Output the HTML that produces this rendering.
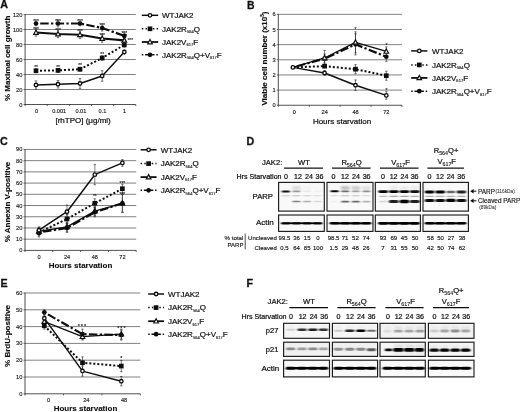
<!DOCTYPE html>
<html><head><meta charset="utf-8"><title>Figure</title>
<style>html,body{margin:0;padding:0;background:#fff;}svg{display:block;}svg text{font-family:"Liberation Sans",sans-serif;}</style></head><body>
<svg width="520" height="412" viewBox="0 0 520 412" font-family="Liberation Sans, sans-serif">
<defs>
<filter id="b1" x="-20%" y="-200%" width="140%" height="500%"><feGaussianBlur stdDeviation="0.9 0.55"/></filter>
<filter id="b2" x="-20%" y="-200%" width="140%" height="500%"><feGaussianBlur stdDeviation="1.1 0.8"/></filter>
<filter id="soft"><feGaussianBlur stdDeviation="0.42"/></filter>
</defs>
<rect width="520" height="412" fill="#fff"/>
<g filter="url(#soft)">
<text x="0.2" y="8.1" font-size="10.7" font-weight="bold" text-anchor="start" fill="#111" stroke="#111" stroke-width="0.28" >A</text>
<text x="246.9" y="8.5" font-size="10.4" font-weight="bold" text-anchor="start" fill="#111" stroke="#111" stroke-width="0.28" >B</text>
<text x="0.1" y="145.4" font-size="10.7" font-weight="bold" text-anchor="start" fill="#111" stroke="#111" stroke-width="0.28" >C</text>
<text x="246.5" y="145.3" font-size="10.7" font-weight="bold" text-anchor="start" fill="#111" stroke="#111" stroke-width="0.28" >D</text>
<text x="0.4" y="286.8" font-size="10.7" font-weight="bold" text-anchor="start" fill="#111" stroke="#111" stroke-width="0.28" >E</text>
<text x="246.5" y="286.9" font-size="10.7" font-weight="bold" text-anchor="start" fill="#111" stroke="#111" stroke-width="0.28" >F</text>
<line x1="25.1" y1="14.50" x2="135.8" y2="14.50" stroke="#6a6a6a" stroke-width="0.85"/>
<line x1="23.6" y1="14.50" x2="25.1" y2="14.50" stroke="#222" stroke-width="0.7"/>
<text x="22.400000000000002" y="16.5" font-size="5.7" text-anchor="end" fill="#1a1a1a" stroke="#1a1a1a" stroke-width="0.14" >120</text>
<line x1="25.1" y1="29.50" x2="135.8" y2="29.50" stroke="#6a6a6a" stroke-width="0.85"/>
<line x1="23.6" y1="29.50" x2="25.1" y2="29.50" stroke="#222" stroke-width="0.7"/>
<text x="22.400000000000002" y="31.5" font-size="5.7" text-anchor="end" fill="#1a1a1a" stroke="#1a1a1a" stroke-width="0.14" >100</text>
<line x1="25.1" y1="44.50" x2="135.8" y2="44.50" stroke="#6a6a6a" stroke-width="0.85"/>
<line x1="23.6" y1="44.50" x2="25.1" y2="44.50" stroke="#222" stroke-width="0.7"/>
<text x="22.400000000000002" y="46.5" font-size="5.7" text-anchor="end" fill="#1a1a1a" stroke="#1a1a1a" stroke-width="0.14" >80</text>
<line x1="25.1" y1="59.50" x2="135.8" y2="59.50" stroke="#6a6a6a" stroke-width="0.85"/>
<line x1="23.6" y1="59.50" x2="25.1" y2="59.50" stroke="#222" stroke-width="0.7"/>
<text x="22.400000000000002" y="61.5" font-size="5.7" text-anchor="end" fill="#1a1a1a" stroke="#1a1a1a" stroke-width="0.14" >60</text>
<line x1="25.1" y1="74.50" x2="135.8" y2="74.50" stroke="#6a6a6a" stroke-width="0.85"/>
<line x1="23.6" y1="74.50" x2="25.1" y2="74.50" stroke="#222" stroke-width="0.7"/>
<text x="22.400000000000002" y="76.5" font-size="5.7" text-anchor="end" fill="#1a1a1a" stroke="#1a1a1a" stroke-width="0.14" >40</text>
<line x1="25.1" y1="89.50" x2="135.8" y2="89.50" stroke="#6a6a6a" stroke-width="0.85"/>
<line x1="23.6" y1="89.50" x2="25.1" y2="89.50" stroke="#222" stroke-width="0.7"/>
<text x="22.400000000000002" y="91.5" font-size="5.7" text-anchor="end" fill="#1a1a1a" stroke="#1a1a1a" stroke-width="0.14" >20</text>
<line x1="25.1" y1="104.50" x2="135.8" y2="104.50" stroke="#333" stroke-width="0.85"/>
<line x1="23.6" y1="104.50" x2="25.1" y2="104.50" stroke="#222" stroke-width="0.7"/>
<text x="22.400000000000002" y="106.5" font-size="5.7" text-anchor="end" fill="#1a1a1a" stroke="#1a1a1a" stroke-width="0.14" >0</text>
<line x1="25.1" y1="14.10" x2="25.1" y2="104.90" stroke="#444" stroke-width="0.95"/>
<line x1="25.10" y1="104.50" x2="25.10" y2="106.10" stroke="#222" stroke-width="0.7"/>
<line x1="47.24" y1="104.50" x2="47.24" y2="106.10" stroke="#222" stroke-width="0.7"/>
<line x1="69.38" y1="104.50" x2="69.38" y2="106.10" stroke="#222" stroke-width="0.7"/>
<line x1="91.52" y1="104.50" x2="91.52" y2="106.10" stroke="#222" stroke-width="0.7"/>
<line x1="113.66" y1="104.50" x2="113.66" y2="106.10" stroke="#222" stroke-width="0.7"/>
<line x1="135.80" y1="104.50" x2="135.80" y2="106.10" stroke="#222" stroke-width="0.7"/>
<text x="36.6" y="112.6" font-size="5.6" text-anchor="middle" fill="#1a1a1a" stroke="#1a1a1a" stroke-width="0.14" >0</text>
<text x="59.2" y="112.6" font-size="5.6" text-anchor="middle" fill="#1a1a1a" stroke="#1a1a1a" stroke-width="0.14" >0.001</text>
<text x="80.9" y="112.6" font-size="5.6" text-anchor="middle" fill="#1a1a1a" stroke="#1a1a1a" stroke-width="0.14" >0.01</text>
<text x="102.5" y="112.6" font-size="5.6" text-anchor="middle" fill="#1a1a1a" stroke="#1a1a1a" stroke-width="0.14" >0.1</text>
<text x="124.6" y="112.6" font-size="5.6" text-anchor="middle" fill="#1a1a1a" stroke="#1a1a1a" stroke-width="0.14" >1</text>
<text transform="translate(9.5,58.3) rotate(-90)" font-size="8" font-weight="bold" text-anchor="middle" fill="#111" stroke="#111" stroke-width="0.15">% Maximal cell growth</text>
<text x="83.1" y="123.4" font-size="8" text-anchor="middle" fill="#111" stroke="#111" stroke-width="0.22" >[rhTPO] (μg/ml)</text>
<path d="M36.00,80.88 V89.12 M34.80,80.88 h2.4 M34.80,89.12 h2.4" stroke="#222" stroke-width="0.6" fill="none"/>
<path d="M58.00,80.50 V88.00 M56.80,80.50 h2.4 M56.80,88.00 h2.4" stroke="#222" stroke-width="0.6" fill="none"/>
<path d="M80.00,78.62 V88.38 M78.80,78.62 h2.4 M78.80,88.38 h2.4" stroke="#222" stroke-width="0.6" fill="none"/>
<path d="M102.20,70.75 V81.25 M101.00,70.75 h2.4 M101.00,81.25 h2.4" stroke="#222" stroke-width="0.6" fill="none"/>
<path d="M124.30,50.12 V53.88 M123.10,50.12 h2.4 M123.10,53.88 h2.4" stroke="#222" stroke-width="0.6" fill="none"/>
<path d="M36.00,68.88 V72.62 M34.80,68.88 h2.4 M34.80,72.62 h2.4" stroke="#222" stroke-width="0.6" fill="none"/>
<path d="M58.00,68.50 V72.25 M56.80,68.50 h2.4 M56.80,72.25 h2.4" stroke="#222" stroke-width="0.6" fill="none"/>
<path d="M80.00,67.38 V71.12 M78.80,67.38 h2.4 M78.80,71.12 h2.4" stroke="#222" stroke-width="0.6" fill="none"/>
<path d="M102.20,55.75 V60.25 M101.00,55.75 h2.4 M101.00,60.25 h2.4" stroke="#222" stroke-width="0.6" fill="none"/>
<path d="M124.30,42.62 V47.12 M123.10,42.62 h2.4 M123.10,47.12 h2.4" stroke="#222" stroke-width="0.6" fill="none"/>
<path d="M36.00,28.75 V36.25 M34.80,28.75 h2.4 M34.80,36.25 h2.4" stroke="#222" stroke-width="0.6" fill="none"/>
<path d="M58.00,30.25 V37.75 M56.80,30.25 h2.4 M56.80,37.75 h2.4" stroke="#222" stroke-width="0.6" fill="none"/>
<path d="M80.00,31.00 V38.50 M78.80,31.00 h2.4 M78.80,38.50 h2.4" stroke="#222" stroke-width="0.6" fill="none"/>
<path d="M102.20,34.75 V42.25 M101.00,34.75 h2.4 M101.00,42.25 h2.4" stroke="#222" stroke-width="0.6" fill="none"/>
<path d="M124.30,37.38 V43.38 M123.10,37.38 h2.4 M123.10,43.38 h2.4" stroke="#222" stroke-width="0.6" fill="none"/>
<path d="M36.00,21.25 V25.75 M34.80,21.25 h2.4 M34.80,25.75 h2.4" stroke="#222" stroke-width="0.6" fill="none"/>
<path d="M58.00,20.12 V26.88 M56.80,20.12 h2.4 M56.80,26.88 h2.4" stroke="#222" stroke-width="0.6" fill="none"/>
<path d="M80.00,21.25 V25.75 M78.80,21.25 h2.4 M78.80,25.75 h2.4" stroke="#222" stroke-width="0.6" fill="none"/>
<path d="M102.20,25.00 V31.00 M101.00,25.00 h2.4 M101.00,31.00 h2.4" stroke="#222" stroke-width="0.6" fill="none"/>
<path d="M124.30,32.88 V38.88 M123.10,32.88 h2.4 M123.10,38.88 h2.4" stroke="#222" stroke-width="0.6" fill="none"/>
<polyline points="36.00,85.00 58.00,84.25 80.00,83.50 102.20,76.00 124.30,52.00" fill="none" stroke="#111" stroke-linejoin="round" stroke-width="1.45"/>
<circle cx="36.00" cy="85.00" r="1.75" fill="#fff" stroke="#111" stroke-width="1.35"/>
<circle cx="58.00" cy="84.25" r="1.75" fill="#fff" stroke="#111" stroke-width="1.35"/>
<circle cx="80.00" cy="83.50" r="1.75" fill="#fff" stroke="#111" stroke-width="1.35"/>
<circle cx="102.20" cy="76.00" r="1.75" fill="#fff" stroke="#111" stroke-width="1.35"/>
<circle cx="124.30" cy="52.00" r="1.75" fill="#fff" stroke="#111" stroke-width="1.35"/>
<polyline points="36.00,70.75 58.00,70.38 80.00,69.25 102.20,58.00 124.30,44.88" fill="none" stroke="#111" stroke-linejoin="round" stroke-width="2" stroke-dasharray="2 2"/>
<rect x="33.65" y="68.40" width="4.7" height="4.7" fill="#111"/>
<rect x="55.65" y="68.03" width="4.7" height="4.7" fill="#111"/>
<rect x="77.65" y="66.90" width="4.7" height="4.7" fill="#111"/>
<rect x="99.85" y="55.65" width="4.7" height="4.7" fill="#111"/>
<rect x="121.95" y="42.52" width="4.7" height="4.7" fill="#111"/>
<polyline points="36.00,32.50 58.00,34.00 80.00,34.75 102.20,38.50 124.30,40.38" fill="none" stroke="#111" stroke-linejoin="round" stroke-width="2.15"/>
<path d="M36.00,30.00 L38.30,34.30 L33.70,34.30 Z" fill="#fff" stroke="#111" stroke-width="1.2"/>
<path d="M58.00,31.50 L60.30,35.80 L55.70,35.80 Z" fill="#fff" stroke="#111" stroke-width="1.2"/>
<path d="M80.00,32.25 L82.30,36.55 L77.70,36.55 Z" fill="#fff" stroke="#111" stroke-width="1.2"/>
<path d="M102.20,36.00 L104.50,40.30 L99.90,40.30 Z" fill="#fff" stroke="#111" stroke-width="1.2"/>
<path d="M124.30,37.88 L126.60,42.17 L122.00,42.17 Z" fill="#fff" stroke="#111" stroke-width="1.2"/>
<polyline points="36.00,23.50 58.00,23.50 80.00,23.50 102.20,28.00 124.30,35.88" fill="none" stroke="#111" stroke-linejoin="round" stroke-width="2.2" stroke-dasharray="8.5 2.3 2.3 2.3" stroke-dashoffset="11.2"/>
<circle cx="36.00" cy="23.50" r="2.35" fill="#111"/>
<circle cx="58.00" cy="23.50" r="2.35" fill="#111"/>
<circle cx="80.00" cy="23.50" r="2.35" fill="#111"/>
<circle cx="102.20" cy="28.00" r="2.35" fill="#111"/>
<circle cx="124.30" cy="35.88" r="2.35" fill="#111"/>
<text x="36" y="22.5" font-size="4.8" text-anchor="middle" fill="#111" stroke="#111" stroke-width="0.1" letter-spacing="0">***</text>
<text x="36" y="30.6" font-size="4.8" text-anchor="middle" fill="#111" stroke="#111" stroke-width="0.1" letter-spacing="0">***</text>
<text x="58" y="22.5" font-size="4.8" text-anchor="middle" fill="#111" stroke="#111" stroke-width="0.1" letter-spacing="0">***</text>
<text x="58" y="32.1" font-size="4.8" text-anchor="middle" fill="#111" stroke="#111" stroke-width="0.1" letter-spacing="0">***</text>
<text x="80" y="22.5" font-size="4.8" text-anchor="middle" fill="#111" stroke="#111" stroke-width="0.1" letter-spacing="0">***</text>
<text x="80" y="32.85" font-size="4.8" text-anchor="middle" fill="#111" stroke="#111" stroke-width="0.1" letter-spacing="0">***</text>
<text x="102.2" y="27.0" font-size="4.8" text-anchor="middle" fill="#111" stroke="#111" stroke-width="0.1" letter-spacing="0">***</text>
<text x="102.2" y="36.6" font-size="4.8" text-anchor="middle" fill="#111" stroke="#111" stroke-width="0.1" letter-spacing="0">***</text>
<text x="124.3" y="34.875" font-size="4.8" text-anchor="middle" fill="#111" stroke="#111" stroke-width="0.1" letter-spacing="0">***</text>
<text x="124.3" y="38.475" font-size="4.8" text-anchor="middle" fill="#111" stroke="#111" stroke-width="0.1" letter-spacing="0">***</text>
<text x="36" y="68.95" font-size="4.8" text-anchor="middle" fill="#111" stroke="#111" stroke-width="0.1" letter-spacing="0">**</text>
<text x="58" y="68.575" font-size="4.8" text-anchor="middle" fill="#111" stroke="#111" stroke-width="0.1" letter-spacing="0">**</text>
<text x="80" y="67.45" font-size="4.8" text-anchor="middle" fill="#111" stroke="#111" stroke-width="0.1" letter-spacing="0">**</text>
<text x="102.2" y="56.2" font-size="4.8" text-anchor="middle" fill="#111" stroke="#111" stroke-width="0.1" letter-spacing="0">**</text>
<text x="130.3" y="41.8" font-size="4.8" text-anchor="middle" fill="#111" stroke="#111" stroke-width="0.1" letter-spacing="0">***</text>
<line x1="141.8" y1="15.3" x2="158.2" y2="15.3" stroke="#111" stroke-width="1.5"/>
<circle cx="150.00" cy="15.30" r="1.75" fill="#fff" stroke="#111" stroke-width="1.35"/>
<text x="162" y="18.1" font-size="8" text-anchor="start" fill="#111" stroke="#111" stroke-width="0.22" >WTJAK2</text>
<line x1="141.8" y1="28.8" x2="158.2" y2="28.8" stroke="#111" stroke-width="1.5" stroke-dasharray="1.5 2.2"/>
<rect x="147.65" y="26.45" width="4.7" height="4.7" fill="#111"/>
<text x="162" y="31.6" font-size="8" text-anchor="start" fill="#111" stroke="#111" stroke-width="0.22" >JAK2R<tspan font-size="4.1" dy="1.5" stroke-width="0.12">564</tspan><tspan dy="-1.5">Q</tspan></text>
<line x1="141.8" y1="42.0" x2="158.2" y2="42.0" stroke="#111" stroke-width="1.8"/>
<path d="M150.00,39.50 L152.30,43.80 L147.70,43.80 Z" fill="#fff" stroke="#111" stroke-width="1.2"/>
<text x="162" y="44.8" font-size="8" text-anchor="start" fill="#111" stroke="#111" stroke-width="0.22" >JAK2V<tspan font-size="4.1" dy="1.5" stroke-width="0.12">617</tspan><tspan dy="-1.5">F</tspan></text>
<line x1="141.8" y1="54.8" x2="158.2" y2="54.8" stroke="#111" stroke-width="1.4" stroke-dasharray="1.5 1.8 9.4 1.8 1.5"/>
<circle cx="150.00" cy="54.80" r="2.35" fill="#111"/>
<text x="162" y="57.599999999999994" font-size="8" text-anchor="start" fill="#111" stroke="#111" stroke-width="0.22" >JAK2R<tspan font-size="4.1" dy="1.5" stroke-width="0.12">564</tspan><tspan dy="-1.5">Q+V</tspan><tspan font-size="4.1" dy="1.5" stroke-width="0.12">617</tspan><tspan dy="-1.5">F</tspan></text>
<line x1="278.3" y1="14.35" x2="402" y2="14.35" stroke="#6a6a6a" stroke-width="0.85"/>
<line x1="276.8" y1="14.35" x2="278.3" y2="14.35" stroke="#222" stroke-width="0.7"/>
<text x="275.6" y="16.35" font-size="5.7" text-anchor="end" fill="#1a1a1a" stroke="#1a1a1a" stroke-width="0.14" >6</text>
<line x1="278.3" y1="29.50" x2="402" y2="29.50" stroke="#6a6a6a" stroke-width="0.85"/>
<line x1="276.8" y1="29.50" x2="278.3" y2="29.50" stroke="#222" stroke-width="0.7"/>
<text x="275.6" y="31.5" font-size="5.7" text-anchor="end" fill="#1a1a1a" stroke="#1a1a1a" stroke-width="0.14" >5</text>
<line x1="278.3" y1="44.65" x2="402" y2="44.65" stroke="#6a6a6a" stroke-width="0.85"/>
<line x1="276.8" y1="44.65" x2="278.3" y2="44.65" stroke="#222" stroke-width="0.7"/>
<text x="275.6" y="46.65" font-size="5.7" text-anchor="end" fill="#1a1a1a" stroke="#1a1a1a" stroke-width="0.14" >4</text>
<line x1="278.3" y1="59.80" x2="402" y2="59.80" stroke="#6a6a6a" stroke-width="0.85"/>
<line x1="276.8" y1="59.80" x2="278.3" y2="59.80" stroke="#222" stroke-width="0.7"/>
<text x="275.6" y="61.800000000000004" font-size="5.7" text-anchor="end" fill="#1a1a1a" stroke="#1a1a1a" stroke-width="0.14" >3</text>
<line x1="278.3" y1="74.95" x2="402" y2="74.95" stroke="#6a6a6a" stroke-width="0.85"/>
<line x1="276.8" y1="74.95" x2="278.3" y2="74.95" stroke="#222" stroke-width="0.7"/>
<text x="275.6" y="76.95" font-size="5.7" text-anchor="end" fill="#1a1a1a" stroke="#1a1a1a" stroke-width="0.14" >2</text>
<line x1="278.3" y1="90.10" x2="402" y2="90.10" stroke="#6a6a6a" stroke-width="0.85"/>
<line x1="276.8" y1="90.10" x2="278.3" y2="90.10" stroke="#222" stroke-width="0.7"/>
<text x="275.6" y="92.1" font-size="5.7" text-anchor="end" fill="#1a1a1a" stroke="#1a1a1a" stroke-width="0.14" >1</text>
<line x1="278.3" y1="105.25" x2="402" y2="105.25" stroke="#333" stroke-width="0.85"/>
<line x1="276.8" y1="105.25" x2="278.3" y2="105.25" stroke="#222" stroke-width="0.7"/>
<text x="275.6" y="107.25" font-size="5.7" text-anchor="end" fill="#1a1a1a" stroke="#1a1a1a" stroke-width="0.14" >0</text>
<line x1="278.3" y1="13.95" x2="278.3" y2="105.65" stroke="#444" stroke-width="0.95"/>
<line x1="278.30" y1="105.25" x2="278.30" y2="106.85" stroke="#222" stroke-width="0.7"/>
<line x1="309.23" y1="105.25" x2="309.23" y2="106.85" stroke="#222" stroke-width="0.7"/>
<line x1="340.15" y1="105.25" x2="340.15" y2="106.85" stroke="#222" stroke-width="0.7"/>
<line x1="371.07" y1="105.25" x2="371.07" y2="106.85" stroke="#222" stroke-width="0.7"/>
<line x1="402.00" y1="105.25" x2="402.00" y2="106.85" stroke="#222" stroke-width="0.7"/>
<text x="294.2" y="114.2" font-size="5.6" text-anchor="middle" fill="#1a1a1a" stroke="#1a1a1a" stroke-width="0.14" >0</text>
<text x="324.7" y="114.2" font-size="5.6" text-anchor="middle" fill="#1a1a1a" stroke="#1a1a1a" stroke-width="0.14" >24</text>
<text x="355.6" y="114.2" font-size="5.6" text-anchor="middle" fill="#1a1a1a" stroke="#1a1a1a" stroke-width="0.14" >48</text>
<text x="386.3" y="114.2" font-size="5.6" text-anchor="middle" fill="#1a1a1a" stroke="#1a1a1a" stroke-width="0.14" >72</text>
<text transform="translate(267.1,58.6) rotate(-90)" font-size="8" font-weight="bold" text-anchor="middle" fill="#111" stroke="#111" stroke-width="0.15">Viable cell number (x10<tspan font-size="4.6" dy="-3">5</tspan><tspan dy="3">)</tspan></text>
<text x="342" y="123.6" font-size="8" text-anchor="middle" fill="#111" stroke="#111" stroke-width="0.22" >Hours starvation</text>
<path d="M324.60,54.04 V63.13 M323.40,54.04 h2.4 M323.40,63.13 h2.4" stroke="#222" stroke-width="0.6" fill="none"/>
<path d="M355.50,33.74 V54.95 M354.30,33.74 h2.4 M354.30,54.95 h2.4" stroke="#222" stroke-width="0.6" fill="none"/>
<path d="M386.30,52.22 V61.31 M385.10,52.22 h2.4 M385.10,61.31 h2.4" stroke="#222" stroke-width="0.6" fill="none"/>
<path d="M324.60,64.65 V67.68 M323.40,64.65 h2.4 M323.40,67.68 h2.4" stroke="#222" stroke-width="0.6" fill="none"/>
<path d="M355.50,64.65 V73.74 M354.30,64.65 h2.4 M354.30,73.74 h2.4" stroke="#222" stroke-width="0.6" fill="none"/>
<path d="M386.30,71.16 V80.25 M385.10,71.16 h2.4 M385.10,80.25 h2.4" stroke="#222" stroke-width="0.6" fill="none"/>
<path d="M324.60,50.41 V65.56 M323.40,50.41 h2.4 M323.40,65.56 h2.4" stroke="#222" stroke-width="0.6" fill="none"/>
<path d="M355.50,31.77 V52.98 M354.30,31.77 h2.4 M354.30,52.98 h2.4" stroke="#222" stroke-width="0.6" fill="none"/>
<path d="M386.30,46.92 V56.01 M385.10,46.92 h2.4 M385.10,56.01 h2.4" stroke="#222" stroke-width="0.6" fill="none"/>
<path d="M324.60,70.71 V75.25 M323.40,70.71 h2.4 M323.40,75.25 h2.4" stroke="#222" stroke-width="0.6" fill="none"/>
<path d="M355.50,79.95 V90.55 M354.30,79.95 h2.4 M354.30,90.55 h2.4" stroke="#222" stroke-width="0.6" fill="none"/>
<path d="M386.30,91.62 V99.19 M385.10,91.62 h2.4 M385.10,99.19 h2.4" stroke="#222" stroke-width="0.6" fill="none"/>
<polyline points="292.90,67.38 324.60,58.59 355.50,44.35 386.30,56.77" fill="none" stroke="#111" stroke-linejoin="round" stroke-width="2.2" stroke-dasharray="8.5 2.3 2.3 2.3" stroke-dashoffset="11.2"/>
<circle cx="324.60" cy="58.59" r="2.35" fill="#111"/>
<circle cx="355.50" cy="44.35" r="2.35" fill="#111"/>
<circle cx="386.30" cy="56.77" r="2.35" fill="#111"/>
<polyline points="292.90,67.38 324.60,66.16 355.50,69.19 386.30,75.71" fill="none" stroke="#111" stroke-linejoin="round" stroke-width="2" stroke-dasharray="2 2"/>
<rect x="322.25" y="63.81" width="4.7" height="4.7" fill="#111"/>
<rect x="353.15" y="66.84" width="4.7" height="4.7" fill="#111"/>
<rect x="383.95" y="73.36" width="4.7" height="4.7" fill="#111"/>
<polyline points="292.90,67.38 324.60,57.98 355.50,42.38 386.30,51.47" fill="none" stroke="#111" stroke-linejoin="round" stroke-width="1.3"/>
<path d="M324.60,55.48 L326.90,59.78 L322.30,59.78 Z" fill="#fff" stroke="#111" stroke-width="1.2"/>
<path d="M355.50,39.88 L357.80,44.18 L353.20,44.18 Z" fill="#fff" stroke="#111" stroke-width="1.2"/>
<path d="M386.30,48.97 L388.60,53.27 L384.00,53.27 Z" fill="#fff" stroke="#111" stroke-width="1.2"/>
<polyline points="292.90,67.38 324.60,72.98 355.50,85.25 386.30,95.40" fill="none" stroke="#111" stroke-linejoin="round" stroke-width="1.45"/>
<circle cx="292.90" cy="67.38" r="1.75" fill="#fff" stroke="#111" stroke-width="1.35"/>
<circle cx="324.60" cy="72.98" r="1.75" fill="#fff" stroke="#111" stroke-width="1.35"/>
<circle cx="355.50" cy="85.25" r="1.75" fill="#fff" stroke="#111" stroke-width="1.35"/>
<circle cx="386.30" cy="95.40" r="1.75" fill="#fff" stroke="#111" stroke-width="1.35"/>
<text x="355.6" y="30.560500000000005" font-size="5.1" text-anchor="middle" fill="#111" stroke="#111" stroke-width="0.1" letter-spacing="0">*</text>
<text x="386.4" y="47.377" font-size="5.1" text-anchor="middle" fill="#111" stroke="#111" stroke-width="0.1" letter-spacing="0">*</text>
<text x="386.4" y="91.615" font-size="5.1" text-anchor="middle" fill="#111" stroke="#111" stroke-width="0.1" letter-spacing="0">*</text>
<line x1="411.2" y1="50.9" x2="427.4" y2="50.9" stroke="#111" stroke-width="1.5"/>
<circle cx="419.30" cy="50.90" r="1.75" fill="#fff" stroke="#111" stroke-width="1.35"/>
<text x="431.9" y="53.699999999999996" font-size="8" text-anchor="start" fill="#111" stroke="#111" stroke-width="0.22" >WTJAK2</text>
<line x1="411.2" y1="64.9" x2="427.4" y2="64.9" stroke="#111" stroke-width="1.5" stroke-dasharray="1.5 2.2"/>
<rect x="416.95" y="62.55" width="4.7" height="4.7" fill="#111"/>
<text x="431.9" y="67.7" font-size="8" text-anchor="start" fill="#111" stroke="#111" stroke-width="0.22" >JAK2R<tspan font-size="4.1" dy="1.5" stroke-width="0.12">564</tspan><tspan dy="-1.5">Q</tspan></text>
<line x1="411.2" y1="77.9" x2="427.4" y2="77.9" stroke="#111" stroke-width="1.8"/>
<path d="M419.30,75.40 L421.60,79.70 L417.00,79.70 Z" fill="#fff" stroke="#111" stroke-width="1.2"/>
<text x="431.9" y="80.7" font-size="8" text-anchor="start" fill="#111" stroke="#111" stroke-width="0.22" >JAK2V<tspan font-size="4.1" dy="1.5" stroke-width="0.12">617</tspan><tspan dy="-1.5">F</tspan></text>
<line x1="411.2" y1="91.2" x2="427.4" y2="91.2" stroke="#111" stroke-width="1.4" stroke-dasharray="1.5 1.8 9.4 1.8 1.5"/>
<circle cx="419.30" cy="91.20" r="2.35" fill="#111"/>
<text x="431.9" y="94.0" font-size="8" text-anchor="start" fill="#111" stroke="#111" stroke-width="0.22" >JAK2R<tspan font-size="4.1" dy="1.5" stroke-width="0.12">564</tspan><tspan dy="-1.5">Q+V</tspan><tspan font-size="4.1" dy="1.5" stroke-width="0.12">617</tspan><tspan dy="-1.5">F</tspan></text>
<line x1="25.0" y1="149.45" x2="136.2" y2="149.45" stroke="#6a6a6a" stroke-width="0.85"/>
<line x1="23.5" y1="149.45" x2="25.0" y2="149.45" stroke="#222" stroke-width="0.7"/>
<text x="22.3" y="151.45" font-size="5.7" text-anchor="end" fill="#1a1a1a" stroke="#1a1a1a" stroke-width="0.14" >90</text>
<line x1="25.0" y1="160.67" x2="136.2" y2="160.67" stroke="#6a6a6a" stroke-width="0.85"/>
<line x1="23.5" y1="160.67" x2="25.0" y2="160.67" stroke="#222" stroke-width="0.7"/>
<text x="22.3" y="162.66666666666666" font-size="5.7" text-anchor="end" fill="#1a1a1a" stroke="#1a1a1a" stroke-width="0.14" >80</text>
<line x1="25.0" y1="171.88" x2="136.2" y2="171.88" stroke="#6a6a6a" stroke-width="0.85"/>
<line x1="23.5" y1="171.88" x2="25.0" y2="171.88" stroke="#222" stroke-width="0.7"/>
<text x="22.3" y="173.88333333333333" font-size="5.7" text-anchor="end" fill="#1a1a1a" stroke="#1a1a1a" stroke-width="0.14" >70</text>
<line x1="25.0" y1="183.10" x2="136.2" y2="183.10" stroke="#6a6a6a" stroke-width="0.85"/>
<line x1="23.5" y1="183.10" x2="25.0" y2="183.10" stroke="#222" stroke-width="0.7"/>
<text x="22.3" y="185.1" font-size="5.7" text-anchor="end" fill="#1a1a1a" stroke="#1a1a1a" stroke-width="0.14" >60</text>
<line x1="25.0" y1="194.32" x2="136.2" y2="194.32" stroke="#6a6a6a" stroke-width="0.85"/>
<line x1="23.5" y1="194.32" x2="25.0" y2="194.32" stroke="#222" stroke-width="0.7"/>
<text x="22.3" y="196.31666666666666" font-size="5.7" text-anchor="end" fill="#1a1a1a" stroke="#1a1a1a" stroke-width="0.14" >50</text>
<line x1="25.0" y1="205.53" x2="136.2" y2="205.53" stroke="#6a6a6a" stroke-width="0.85"/>
<line x1="23.5" y1="205.53" x2="25.0" y2="205.53" stroke="#222" stroke-width="0.7"/>
<text x="22.3" y="207.53333333333333" font-size="5.7" text-anchor="end" fill="#1a1a1a" stroke="#1a1a1a" stroke-width="0.14" >40</text>
<line x1="25.0" y1="216.75" x2="136.2" y2="216.75" stroke="#6a6a6a" stroke-width="0.85"/>
<line x1="23.5" y1="216.75" x2="25.0" y2="216.75" stroke="#222" stroke-width="0.7"/>
<text x="22.3" y="218.75" font-size="5.7" text-anchor="end" fill="#1a1a1a" stroke="#1a1a1a" stroke-width="0.14" >30</text>
<line x1="25.0" y1="227.97" x2="136.2" y2="227.97" stroke="#6a6a6a" stroke-width="0.85"/>
<line x1="23.5" y1="227.97" x2="25.0" y2="227.97" stroke="#222" stroke-width="0.7"/>
<text x="22.3" y="229.96666666666667" font-size="5.7" text-anchor="end" fill="#1a1a1a" stroke="#1a1a1a" stroke-width="0.14" >20</text>
<line x1="25.0" y1="239.18" x2="136.2" y2="239.18" stroke="#6a6a6a" stroke-width="0.85"/>
<line x1="23.5" y1="239.18" x2="25.0" y2="239.18" stroke="#222" stroke-width="0.7"/>
<text x="22.3" y="241.18333333333334" font-size="5.7" text-anchor="end" fill="#1a1a1a" stroke="#1a1a1a" stroke-width="0.14" >10</text>
<line x1="25.0" y1="250.40" x2="136.2" y2="250.40" stroke="#333" stroke-width="0.85"/>
<line x1="23.5" y1="250.40" x2="25.0" y2="250.40" stroke="#222" stroke-width="0.7"/>
<text x="22.3" y="252.4" font-size="5.7" text-anchor="end" fill="#1a1a1a" stroke="#1a1a1a" stroke-width="0.14" >0</text>
<line x1="25.0" y1="149.05" x2="25.0" y2="250.80" stroke="#444" stroke-width="0.95"/>
<line x1="25.00" y1="250.40" x2="25.00" y2="252.00" stroke="#222" stroke-width="0.7"/>
<line x1="52.80" y1="250.40" x2="52.80" y2="252.00" stroke="#222" stroke-width="0.7"/>
<line x1="80.60" y1="250.40" x2="80.60" y2="252.00" stroke="#222" stroke-width="0.7"/>
<line x1="108.40" y1="250.40" x2="108.40" y2="252.00" stroke="#222" stroke-width="0.7"/>
<line x1="136.20" y1="250.40" x2="136.20" y2="252.00" stroke="#222" stroke-width="0.7"/>
<text x="39" y="258.5" font-size="5.6" text-anchor="middle" fill="#1a1a1a" stroke="#1a1a1a" stroke-width="0.14" >0</text>
<text x="67" y="258.5" font-size="5.6" text-anchor="middle" fill="#1a1a1a" stroke="#1a1a1a" stroke-width="0.14" >24</text>
<text x="94.8" y="258.5" font-size="5.6" text-anchor="middle" fill="#1a1a1a" stroke="#1a1a1a" stroke-width="0.14" >48</text>
<text x="122.4" y="258.5" font-size="5.6" text-anchor="middle" fill="#1a1a1a" stroke="#1a1a1a" stroke-width="0.14" >72</text>
<text transform="translate(9.5,202) rotate(-90)" font-size="8" font-weight="bold" text-anchor="middle" fill="#111" stroke="#111" stroke-width="0.15">% Annexin V-positive</text>
<text x="80.5" y="267.8" font-size="8" font-weight="bold" text-anchor="middle" fill="#111" stroke="#111" stroke-width="0.12" >Hours starvation</text>
<path d="M39.00,227.97 V234.69 M37.80,227.97 h2.4 M37.80,234.69 h2.4" stroke="#222" stroke-width="0.6" fill="none"/>
<path d="M67.00,222.36 V231.32 M65.80,222.36 h2.4 M65.80,231.32 h2.4" stroke="#222" stroke-width="0.6" fill="none"/>
<path d="M94.80,206.66 V215.62 M93.60,206.66 h2.4 M93.60,215.62 h2.4" stroke="#222" stroke-width="0.6" fill="none"/>
<path d="M122.40,194.33 V212.25 M121.20,194.33 h2.4 M121.20,212.25 h2.4" stroke="#222" stroke-width="0.6" fill="none"/>
<path d="M39.00,227.97 V236.93 M37.80,227.97 h2.4 M37.80,236.93 h2.4" stroke="#222" stroke-width="0.6" fill="none"/>
<path d="M67.00,223.49 V232.45 M65.80,223.49 h2.4 M65.80,232.45 h2.4" stroke="#222" stroke-width="0.6" fill="none"/>
<path d="M94.80,207.78 V216.74 M93.60,207.78 h2.4 M93.60,216.74 h2.4" stroke="#222" stroke-width="0.6" fill="none"/>
<path d="M122.40,194.33 V212.25 M121.20,194.33 h2.4 M121.20,212.25 h2.4" stroke="#222" stroke-width="0.6" fill="none"/>
<path d="M39.00,229.09 V235.81 M37.80,229.09 h2.4 M37.80,235.81 h2.4" stroke="#222" stroke-width="0.6" fill="none"/>
<path d="M67.00,214.51 V223.47 M65.80,214.51 h2.4 M65.80,223.47 h2.4" stroke="#222" stroke-width="0.6" fill="none"/>
<path d="M94.80,198.81 V207.77 M93.60,198.81 h2.4 M93.60,207.77 h2.4" stroke="#222" stroke-width="0.6" fill="none"/>
<path d="M122.40,184.23 V193.19 M121.20,184.23 h2.4 M121.20,193.19 h2.4" stroke="#222" stroke-width="0.6" fill="none"/>
<path d="M39.00,226.85 V233.57 M37.80,226.85 h2.4 M37.80,233.57 h2.4" stroke="#222" stroke-width="0.6" fill="none"/>
<path d="M67.00,204.98 V218.42 M65.80,204.98 h2.4 M65.80,218.42 h2.4" stroke="#222" stroke-width="0.6" fill="none"/>
<path d="M94.80,164.61 V184.77 M93.60,164.61 h2.4 M93.60,184.77 h2.4" stroke="#222" stroke-width="0.6" fill="none"/>
<path d="M122.40,159.55 V166.27 M121.20,159.55 h2.4 M121.20,166.27 h2.4" stroke="#222" stroke-width="0.6" fill="none"/>
<polyline points="39.00,231.33 67.00,226.84 94.80,211.14 122.40,203.29" fill="none" stroke="#111" stroke-linejoin="round" stroke-width="1.3"/>
<path d="M39.00,228.83 L41.30,233.13 L36.70,233.13 Z" fill="#fff" stroke="#111" stroke-width="1.2"/>
<path d="M67.00,224.34 L69.30,228.64 L64.70,228.64 Z" fill="#fff" stroke="#111" stroke-width="1.2"/>
<path d="M94.80,208.64 L97.10,212.94 L92.50,212.94 Z" fill="#fff" stroke="#111" stroke-width="1.2"/>
<path d="M122.40,200.79 L124.70,205.09 L120.10,205.09 Z" fill="#fff" stroke="#111" stroke-width="1.2"/>
<polyline points="39.00,232.45 67.00,227.97 94.80,212.26 122.40,203.29" fill="none" stroke="#111" stroke-linejoin="round" stroke-width="2.2" stroke-dasharray="8.5 2.3 2.3 2.3" stroke-dashoffset="11.2"/>
<circle cx="39.00" cy="232.45" r="2.35" fill="#111"/>
<circle cx="67.00" cy="227.97" r="2.35" fill="#111"/>
<circle cx="94.80" cy="212.26" r="2.35" fill="#111"/>
<circle cx="122.40" cy="203.29" r="2.35" fill="#111"/>
<polyline points="39.00,232.45 67.00,218.99 94.80,203.29 122.40,188.71" fill="none" stroke="#111" stroke-linejoin="round" stroke-width="2" stroke-dasharray="2 2"/>
<rect x="36.65" y="230.10" width="4.7" height="4.7" fill="#111"/>
<rect x="64.65" y="216.64" width="4.7" height="4.7" fill="#111"/>
<rect x="92.45" y="200.94" width="4.7" height="4.7" fill="#111"/>
<rect x="120.05" y="186.36" width="4.7" height="4.7" fill="#111"/>
<polyline points="39.00,230.21 67.00,211.70 94.80,174.69 122.40,162.91" fill="none" stroke="#111" stroke-linejoin="round" stroke-width="1.45"/>
<circle cx="39.00" cy="230.21" r="1.75" fill="#fff" stroke="#111" stroke-width="1.35"/>
<circle cx="67.00" cy="211.70" r="1.75" fill="#fff" stroke="#111" stroke-width="1.35"/>
<circle cx="94.80" cy="174.69" r="1.75" fill="#fff" stroke="#111" stroke-width="1.35"/>
<circle cx="122.40" cy="162.91" r="1.75" fill="#fff" stroke="#111" stroke-width="1.35"/>
<text x="94.8" y="198.24095" font-size="4.8" text-anchor="middle" fill="#111" stroke="#111" stroke-width="0.1" letter-spacing="0">**</text>
<text x="122.4" y="184.78055" font-size="4.8" text-anchor="middle" fill="#111" stroke="#111" stroke-width="0.1" letter-spacing="0">***</text>
<text x="122.4" y="195.99755000000002" font-size="4.8" text-anchor="middle" fill="#111" stroke="#111" stroke-width="0.1" letter-spacing="0">***</text>
<line x1="140.6" y1="149.8" x2="156.6" y2="149.8" stroke="#111" stroke-width="1.5"/>
<circle cx="148.60" cy="149.80" r="1.75" fill="#fff" stroke="#111" stroke-width="1.35"/>
<text x="160.7" y="152.60000000000002" font-size="8" text-anchor="start" fill="#111" stroke="#111" stroke-width="0.22" >WTJAK2</text>
<line x1="140.6" y1="163.6" x2="156.6" y2="163.6" stroke="#111" stroke-width="1.5" stroke-dasharray="1.5 2.2"/>
<rect x="146.25" y="161.25" width="4.7" height="4.7" fill="#111"/>
<text x="160.7" y="166.4" font-size="8" text-anchor="start" fill="#111" stroke="#111" stroke-width="0.22" >JAK2R<tspan font-size="4.1" dy="1.5" stroke-width="0.12">564</tspan><tspan dy="-1.5">Q</tspan></text>
<line x1="140.6" y1="177.1" x2="156.6" y2="177.1" stroke="#111" stroke-width="1.8"/>
<path d="M148.60,174.60 L150.90,178.90 L146.30,178.90 Z" fill="#fff" stroke="#111" stroke-width="1.2"/>
<text x="160.7" y="179.9" font-size="8" text-anchor="start" fill="#111" stroke="#111" stroke-width="0.22" >JAK2V<tspan font-size="4.1" dy="1.5" stroke-width="0.12">617</tspan><tspan dy="-1.5">F</tspan></text>
<line x1="140.6" y1="190.3" x2="156.6" y2="190.3" stroke="#111" stroke-width="1.4" stroke-dasharray="1.5 1.8 9.4 1.8 1.5"/>
<circle cx="148.60" cy="190.30" r="2.35" fill="#111"/>
<text x="160.7" y="193.10000000000002" font-size="8" text-anchor="start" fill="#111" stroke="#111" stroke-width="0.22" >JAK2R<tspan font-size="4.1" dy="1.5" stroke-width="0.12">564</tspan><tspan dy="-1.5">Q+V</tspan><tspan font-size="4.1" dy="1.5" stroke-width="0.12">617</tspan><tspan dy="-1.5">F</tspan></text>
<line x1="25.0" y1="293.00" x2="140.3" y2="293.00" stroke="#6a6a6a" stroke-width="0.85"/>
<line x1="23.5" y1="293.00" x2="25.0" y2="293.00" stroke="#222" stroke-width="0.7"/>
<text x="22.3" y="295.0" font-size="5.7" text-anchor="end" fill="#1a1a1a" stroke="#1a1a1a" stroke-width="0.14" >60</text>
<line x1="25.0" y1="309.80" x2="140.3" y2="309.80" stroke="#6a6a6a" stroke-width="0.85"/>
<line x1="23.5" y1="309.80" x2="25.0" y2="309.80" stroke="#222" stroke-width="0.7"/>
<text x="22.3" y="311.8" font-size="5.7" text-anchor="end" fill="#1a1a1a" stroke="#1a1a1a" stroke-width="0.14" >50</text>
<line x1="25.0" y1="326.60" x2="140.3" y2="326.60" stroke="#6a6a6a" stroke-width="0.85"/>
<line x1="23.5" y1="326.60" x2="25.0" y2="326.60" stroke="#222" stroke-width="0.7"/>
<text x="22.3" y="328.6" font-size="5.7" text-anchor="end" fill="#1a1a1a" stroke="#1a1a1a" stroke-width="0.14" >40</text>
<line x1="25.0" y1="343.40" x2="140.3" y2="343.40" stroke="#6a6a6a" stroke-width="0.85"/>
<line x1="23.5" y1="343.40" x2="25.0" y2="343.40" stroke="#222" stroke-width="0.7"/>
<text x="22.3" y="345.4" font-size="5.7" text-anchor="end" fill="#1a1a1a" stroke="#1a1a1a" stroke-width="0.14" >30</text>
<line x1="25.0" y1="360.20" x2="140.3" y2="360.20" stroke="#6a6a6a" stroke-width="0.85"/>
<line x1="23.5" y1="360.20" x2="25.0" y2="360.20" stroke="#222" stroke-width="0.7"/>
<text x="22.3" y="362.2" font-size="5.7" text-anchor="end" fill="#1a1a1a" stroke="#1a1a1a" stroke-width="0.14" >20</text>
<line x1="25.0" y1="377.00" x2="140.3" y2="377.00" stroke="#6a6a6a" stroke-width="0.85"/>
<line x1="23.5" y1="377.00" x2="25.0" y2="377.00" stroke="#222" stroke-width="0.7"/>
<text x="22.3" y="379.0" font-size="5.7" text-anchor="end" fill="#1a1a1a" stroke="#1a1a1a" stroke-width="0.14" >10</text>
<line x1="25.0" y1="393.80" x2="140.3" y2="393.80" stroke="#333" stroke-width="0.85"/>
<line x1="23.5" y1="393.80" x2="25.0" y2="393.80" stroke="#222" stroke-width="0.7"/>
<text x="22.3" y="395.8" font-size="5.7" text-anchor="end" fill="#1a1a1a" stroke="#1a1a1a" stroke-width="0.14" >0</text>
<line x1="25.0" y1="292.60" x2="25.0" y2="394.20" stroke="#444" stroke-width="0.95"/>
<line x1="25.00" y1="393.80" x2="25.00" y2="395.40" stroke="#222" stroke-width="0.7"/>
<line x1="63.43" y1="393.80" x2="63.43" y2="395.40" stroke="#222" stroke-width="0.7"/>
<line x1="101.87" y1="393.80" x2="101.87" y2="395.40" stroke="#222" stroke-width="0.7"/>
<line x1="140.30" y1="393.80" x2="140.30" y2="395.40" stroke="#222" stroke-width="0.7"/>
<text x="48.5" y="401.90000000000003" font-size="5.6" text-anchor="middle" fill="#1a1a1a" stroke="#1a1a1a" stroke-width="0.14" >0</text>
<text x="86.3" y="401.90000000000003" font-size="5.6" text-anchor="middle" fill="#1a1a1a" stroke="#1a1a1a" stroke-width="0.14" >24</text>
<text x="124" y="401.90000000000003" font-size="5.6" text-anchor="middle" fill="#1a1a1a" stroke="#1a1a1a" stroke-width="0.14" >48</text>
<text transform="translate(9.5,336) rotate(-90)" font-size="8" font-weight="bold" text-anchor="middle" fill="#111" stroke="#111" stroke-width="0.15">% BrdU-positive</text>
<text x="85.5" y="410.9" font-size="8" font-weight="bold" text-anchor="middle" fill="#111" stroke="#111" stroke-width="0.12" >Hours starvation</text>
<path d="M44.30,318.20 V324.92 M43.10,318.20 h2.4 M43.10,324.92 h2.4" stroke="#222" stroke-width="0.6" fill="none"/>
<path d="M82.50,333.32 V340.04 M81.30,333.32 h2.4 M81.30,340.04 h2.4" stroke="#222" stroke-width="0.6" fill="none"/>
<path d="M121.30,329.12 V339.20 M120.10,329.12 h2.4 M120.10,339.20 h2.4" stroke="#222" stroke-width="0.6" fill="none"/>
<path d="M44.30,309.80 V314.84 M43.10,309.80 h2.4 M43.10,314.84 h2.4" stroke="#222" stroke-width="0.6" fill="none"/>
<path d="M82.50,329.12 V339.20 M81.30,329.12 h2.4 M81.30,339.20 h2.4" stroke="#222" stroke-width="0.6" fill="none"/>
<path d="M121.30,329.96 V340.04 M120.10,329.96 h2.4 M120.10,340.04 h2.4" stroke="#222" stroke-width="0.6" fill="none"/>
<path d="M44.30,322.40 V329.12 M43.10,322.40 h2.4 M43.10,329.12 h2.4" stroke="#222" stroke-width="0.6" fill="none"/>
<path d="M82.50,356.84 V368.60 M81.30,356.84 h2.4 M81.30,368.60 h2.4" stroke="#222" stroke-width="0.6" fill="none"/>
<path d="M121.30,360.37 V371.79 M120.10,360.37 h2.4 M120.10,371.79 h2.4" stroke="#222" stroke-width="0.6" fill="none"/>
<path d="M44.30,314.84 V321.56 M43.10,314.84 h2.4 M43.10,321.56 h2.4" stroke="#222" stroke-width="0.6" fill="none"/>
<path d="M82.50,366.08 V376.16 M81.30,366.08 h2.4 M81.30,376.16 h2.4" stroke="#222" stroke-width="0.6" fill="none"/>
<path d="M121.30,376.50 V385.90 M120.10,376.50 h2.4 M120.10,385.90 h2.4" stroke="#222" stroke-width="0.6" fill="none"/>
<polyline points="44.30,321.56 82.50,336.68 121.30,334.16" fill="none" stroke="#111" stroke-linejoin="round" stroke-width="1.3"/>
<path d="M44.30,319.06 L46.60,323.36 L42.00,323.36 Z" fill="#fff" stroke="#111" stroke-width="1.2"/>
<path d="M82.50,334.18 L84.80,338.48 L80.20,338.48 Z" fill="#fff" stroke="#111" stroke-width="1.2"/>
<path d="M121.30,331.66 L123.60,335.96 L119.00,335.96 Z" fill="#fff" stroke="#111" stroke-width="1.2"/>
<polyline points="44.30,312.32 82.50,334.16 121.30,335.00" fill="none" stroke="#111" stroke-linejoin="round" stroke-width="2.2" stroke-dasharray="8.5 2.3 2.3 2.3" stroke-dashoffset="11.2"/>
<circle cx="44.30" cy="312.32" r="2.35" fill="#111"/>
<circle cx="82.50" cy="334.16" r="2.35" fill="#111"/>
<circle cx="121.30" cy="335.00" r="2.35" fill="#111"/>
<polyline points="44.30,325.76 82.50,362.72 121.30,366.08" fill="none" stroke="#111" stroke-linejoin="round" stroke-width="2" stroke-dasharray="2 2"/>
<rect x="41.95" y="323.41" width="4.7" height="4.7" fill="#111"/>
<rect x="80.15" y="360.37" width="4.7" height="4.7" fill="#111"/>
<rect x="118.95" y="363.73" width="4.7" height="4.7" fill="#111"/>
<polyline points="44.30,318.20 82.50,371.12 121.30,381.20" fill="none" stroke="#111" stroke-linejoin="round" stroke-width="1.45"/>
<circle cx="44.30" cy="318.20" r="1.75" fill="#fff" stroke="#111" stroke-width="1.35"/>
<circle cx="82.50" cy="371.12" r="1.75" fill="#fff" stroke="#111" stroke-width="1.35"/>
<circle cx="121.30" cy="381.20" r="1.75" fill="#fff" stroke="#111" stroke-width="1.35"/>
<text x="82.5" y="328.28000000000003" font-size="5.5" text-anchor="middle" fill="#111" stroke="#111" stroke-width="0.14" letter-spacing="1.1">***</text>
<text x="122" y="329.624" font-size="5.5" text-anchor="middle" fill="#111" stroke="#111" stroke-width="0.14" letter-spacing="1.1">***</text>
<text x="121.3" y="359.86400000000003" font-size="5.5" text-anchor="middle" fill="#111" stroke="#111" stroke-width="0.14" letter-spacing="0">*</text>
<line x1="148.2" y1="294" x2="164.0" y2="294" stroke="#111" stroke-width="1.5"/>
<circle cx="156.10" cy="294.00" r="1.75" fill="#fff" stroke="#111" stroke-width="1.35"/>
<text x="168" y="296.8" font-size="8" text-anchor="start" fill="#111" stroke="#111" stroke-width="0.22" >WTJAK2</text>
<line x1="148.2" y1="307.6" x2="164.0" y2="307.6" stroke="#111" stroke-width="1.5" stroke-dasharray="1.5 2.2"/>
<rect x="153.75" y="305.25" width="4.7" height="4.7" fill="#111"/>
<text x="168" y="310.40000000000003" font-size="8" text-anchor="start" fill="#111" stroke="#111" stroke-width="0.22" >JAK2R<tspan font-size="4.1" dy="1.5" stroke-width="0.12">564</tspan><tspan dy="-1.5">Q</tspan></text>
<line x1="148.2" y1="321.2" x2="164.0" y2="321.2" stroke="#111" stroke-width="1.8"/>
<path d="M156.10,318.70 L158.40,323.00 L153.80,323.00 Z" fill="#fff" stroke="#111" stroke-width="1.2"/>
<text x="168" y="324.0" font-size="8" text-anchor="start" fill="#111" stroke="#111" stroke-width="0.22" >JAK2V<tspan font-size="4.1" dy="1.5" stroke-width="0.12">617</tspan><tspan dy="-1.5">F</tspan></text>
<line x1="148.2" y1="334.2" x2="164.0" y2="334.2" stroke="#111" stroke-width="1.4" stroke-dasharray="1.5 1.8 9.4 1.8 1.5"/>
<circle cx="156.10" cy="334.20" r="2.35" fill="#111"/>
<text x="168" y="337.0" font-size="8" text-anchor="start" fill="#111" stroke="#111" stroke-width="0.22" >JAK2R<tspan font-size="4.1" dy="1.5" stroke-width="0.12">564</tspan><tspan dy="-1.5">Q+V</tspan><tspan font-size="4.1" dy="1.5" stroke-width="0.12">617</tspan><tspan dy="-1.5">F</tspan></text>
</g>
<g filter="url(#soft)">
<text x="262" y="164.7" font-size="7.6" text-anchor="start" fill="#111" stroke="#111" stroke-width="0.22" >JAK2:</text>
<text x="304" y="164.7" font-size="7.6" text-anchor="middle" fill="#111" stroke="#111" stroke-width="0.22" >WT</text>
<text x="351.5" y="164.7" font-size="7.6" text-anchor="middle" fill="#111" stroke="#111" stroke-width="0.22" >R<tspan font-size="5.3" dy="1.9" stroke-width="0.1">564</tspan><tspan dy="-1.9">Q</tspan></text>
<text x="400.5" y="164.7" font-size="7.6" text-anchor="middle" fill="#111" stroke="#111" stroke-width="0.22" >V<tspan font-size="5.3" dy="1.9" stroke-width="0.1">617</tspan><tspan dy="-1.9">F</tspan></text>
<text x="446" y="153.3" font-size="7.6" text-anchor="middle" fill="#111" stroke="#111" stroke-width="0.22" >R<tspan font-size="5.3" dy="1.9" stroke-width="0.1">564</tspan><tspan dy="-1.9">Q+</tspan></text>
<text x="446.7" y="164.1" font-size="7.6" text-anchor="middle" fill="#111" stroke="#111" stroke-width="0.22" >V<tspan font-size="5.3" dy="1.9" stroke-width="0.1">617</tspan><tspan dy="-1.9">F</tspan></text>
<line x1="284" y1="168.2" x2="323" y2="168.2" stroke="#111" stroke-width="1.2"/>
<line x1="332" y1="168.2" x2="370.6" y2="168.2" stroke="#111" stroke-width="1.2"/>
<line x1="380" y1="168.2" x2="418.5" y2="168.2" stroke="#111" stroke-width="1.2"/>
<line x1="427.4" y1="168.2" x2="464" y2="168.2" stroke="#111" stroke-width="1.2"/>
<text x="236.6" y="179.0" font-size="7.1" text-anchor="start" fill="#111" stroke="#111" stroke-width="0.22" >Hrs Starvation</text>
<text x="286" y="179.0" font-size="7.1" text-anchor="middle" fill="#111" stroke="#111" stroke-width="0.22" >0</text>
<text x="298" y="179.0" font-size="7.1" text-anchor="middle" fill="#111" stroke="#111" stroke-width="0.22" >12</text>
<text x="309" y="179.0" font-size="7.1" text-anchor="middle" fill="#111" stroke="#111" stroke-width="0.22" >24</text>
<text x="319.5" y="179.0" font-size="7.1" text-anchor="middle" fill="#111" stroke="#111" stroke-width="0.22" >36</text>
<text x="333.6" y="179.0" font-size="7.1" text-anchor="middle" fill="#111" stroke="#111" stroke-width="0.22" >0</text>
<text x="345" y="179.0" font-size="7.1" text-anchor="middle" fill="#111" stroke="#111" stroke-width="0.22" >12</text>
<text x="356" y="179.0" font-size="7.1" text-anchor="middle" fill="#111" stroke="#111" stroke-width="0.22" >24</text>
<text x="366.6" y="179.0" font-size="7.1" text-anchor="middle" fill="#111" stroke="#111" stroke-width="0.22" >36</text>
<text x="383" y="179.0" font-size="7.1" text-anchor="middle" fill="#111" stroke="#111" stroke-width="0.22" >0</text>
<text x="393.6" y="179.0" font-size="7.1" text-anchor="middle" fill="#111" stroke="#111" stroke-width="0.22" >12</text>
<text x="404.4" y="179.0" font-size="7.1" text-anchor="middle" fill="#111" stroke="#111" stroke-width="0.22" >24</text>
<text x="414.6" y="179.0" font-size="7.1" text-anchor="middle" fill="#111" stroke="#111" stroke-width="0.22" >36</text>
<text x="429.4" y="179.0" font-size="7.1" text-anchor="middle" fill="#111" stroke="#111" stroke-width="0.22" >0</text>
<text x="440" y="179.0" font-size="7.1" text-anchor="middle" fill="#111" stroke="#111" stroke-width="0.22" >12</text>
<text x="450.6" y="179.0" font-size="7.1" text-anchor="middle" fill="#111" stroke="#111" stroke-width="0.22" >24</text>
<text x="461.2" y="179.0" font-size="7.1" text-anchor="middle" fill="#111" stroke="#111" stroke-width="0.22" >36</text>
<text x="252.6" y="198.8" font-size="7.7" text-anchor="start" fill="#111" stroke="#111" stroke-width="0.22" >PARP</text>
<text x="256" y="225.2" font-size="8" text-anchor="start" fill="#111" stroke="#111" stroke-width="0.22" >Actin</text>
<rect x="278.6" y="182.4" width="45.70" height="28.70" fill="#f9f9f9" stroke="#1a1a1a" stroke-width="1.15"/>
<rect x="278.6" y="215" width="45.70" height="16.40" fill="#f9f9f9" stroke="#1a1a1a" stroke-width="1.15"/>
<rect x="327" y="182.4" width="46.00" height="28.70" fill="#f9f9f9" stroke="#1a1a1a" stroke-width="1.15"/>
<rect x="327" y="215" width="46.00" height="16.40" fill="#f9f9f9" stroke="#1a1a1a" stroke-width="1.15"/>
<rect x="375.3" y="182.4" width="45.10" height="28.70" fill="#f9f9f9" stroke="#1a1a1a" stroke-width="1.15"/>
<rect x="375.3" y="215" width="45.10" height="16.40" fill="#f9f9f9" stroke="#1a1a1a" stroke-width="1.15"/>
<rect x="423" y="182.4" width="45.40" height="28.70" fill="#f9f9f9" stroke="#1a1a1a" stroke-width="1.15"/>
<rect x="423" y="215" width="45.40" height="16.40" fill="#f9f9f9" stroke="#1a1a1a" stroke-width="1.15"/>
</g>
<rect x="281.70" y="190.40" width="8.20" height="2.00" rx="1.00" fill="#000" opacity="0.95" filter="url(#b1)"/>
<rect x="281.60" y="195.15" width="8.40" height="1.10" rx="0.55" fill="#000" opacity="0.2" filter="url(#b1)"/>
<rect x="291.90" y="186.30" width="9.00" height="3.40" rx="1.70" fill="#000" opacity="0.12" filter="url(#b2)"/>
<rect x="292.40" y="190.55" width="8.00" height="1.70" rx="0.85" fill="#000" opacity="0.38" filter="url(#b1)"/>
<rect x="292.20" y="195.15" width="8.40" height="1.10" rx="0.55" fill="#000" opacity="0.25" filter="url(#b1)"/>
<rect x="292.40" y="200.65" width="8.00" height="1.70" rx="0.85" fill="#000" opacity="0.5" filter="url(#b1)"/>
<rect x="302.50" y="186.30" width="9.00" height="3.40" rx="1.70" fill="#000" opacity="0.03" filter="url(#b2)"/>
<rect x="303.00" y="190.55" width="8.00" height="1.70" rx="0.85" fill="#000" opacity="0.06" filter="url(#b1)"/>
<rect x="302.80" y="195.15" width="8.40" height="1.10" rx="0.55" fill="#000" opacity="0.18" filter="url(#b1)"/>
<rect x="303.00" y="200.65" width="8.00" height="1.70" rx="0.85" fill="#000" opacity="0.3" filter="url(#b1)"/>
<rect x="313.50" y="190.55" width="8.00" height="1.70" rx="0.85" fill="#000" opacity="0.03" filter="url(#b1)"/>
<rect x="313.30" y="195.15" width="8.40" height="1.10" rx="0.55" fill="#000" opacity="0.14" filter="url(#b1)"/>
<rect x="313.50" y="200.65" width="8.00" height="1.70" rx="0.85" fill="#000" opacity="0.12" filter="url(#b1)"/>
<rect x="330.50" y="190.30" width="8.20" height="2.00" rx="1.00" fill="#000" opacity="0.98" filter="url(#b1)"/>
<rect x="330.40" y="195.15" width="8.40" height="1.10" rx="0.55" fill="#000" opacity="0.15" filter="url(#b1)"/>
<rect x="330.60" y="200.85" width="8.00" height="1.70" rx="0.85" fill="#000" opacity="0.03" filter="url(#b1)"/>
<rect x="340.70" y="186.30" width="9.00" height="3.40" rx="1.70" fill="#000" opacity="0.25" filter="url(#b2)"/>
<rect x="341.20" y="190.45" width="8.00" height="1.70" rx="0.85" fill="#000" opacity="0.55" filter="url(#b1)"/>
<rect x="341.00" y="195.15" width="8.40" height="1.10" rx="0.55" fill="#000" opacity="0.25" filter="url(#b1)"/>
<rect x="341.20" y="200.85" width="8.00" height="1.70" rx="0.85" fill="#000" opacity="0.6" filter="url(#b1)"/>
<rect x="351.30" y="186.30" width="9.00" height="3.40" rx="1.70" fill="#000" opacity="0.2" filter="url(#b2)"/>
<rect x="351.80" y="190.45" width="8.00" height="1.70" rx="0.85" fill="#000" opacity="0.35" filter="url(#b1)"/>
<rect x="351.60" y="195.15" width="8.40" height="1.10" rx="0.55" fill="#000" opacity="0.22" filter="url(#b1)"/>
<rect x="351.80" y="200.85" width="8.00" height="1.70" rx="0.85" fill="#000" opacity="0.58" filter="url(#b1)"/>
<rect x="361.90" y="186.30" width="9.00" height="3.40" rx="1.70" fill="#000" opacity="0.1" filter="url(#b2)"/>
<rect x="362.40" y="190.45" width="8.00" height="1.70" rx="0.85" fill="#000" opacity="0.42" filter="url(#b1)"/>
<rect x="362.20" y="195.15" width="8.40" height="1.10" rx="0.55" fill="#000" opacity="0.15" filter="url(#b1)"/>
<rect x="362.40" y="200.85" width="8.00" height="1.70" rx="0.85" fill="#000" opacity="0.28" filter="url(#b1)"/>
<rect x="378.40" y="190.15" width="9.60" height="2.90" rx="1.45" fill="#000" opacity="1.0" filter="url(#b1)"/>
<rect x="379.00" y="195.85" width="8.40" height="1.10" rx="0.55" fill="#000" opacity="0.25" filter="url(#b1)"/>
<rect x="379.20" y="200.65" width="8.00" height="1.70" rx="0.85" fill="#000" opacity="0.15" filter="url(#b1)"/>
<rect x="389.30" y="186.30" width="9.00" height="3.40" rx="1.70" fill="#000" opacity="0.06" filter="url(#b2)"/>
<rect x="389.00" y="190.15" width="9.60" height="2.90" rx="1.45" fill="#000" opacity="1.0" filter="url(#b1)"/>
<rect x="389.60" y="195.85" width="8.40" height="1.10" rx="0.55" fill="#000" opacity="0.32" filter="url(#b1)"/>
<rect x="388.90" y="200.00" width="9.80" height="3.00" rx="1.50" fill="#000" opacity="0.88" filter="url(#b1)"/>
<rect x="399.90" y="186.30" width="9.00" height="3.40" rx="1.70" fill="#000" opacity="0.06" filter="url(#b2)"/>
<rect x="399.60" y="190.15" width="9.60" height="2.90" rx="1.45" fill="#000" opacity="1.0" filter="url(#b1)"/>
<rect x="400.20" y="195.85" width="8.40" height="1.10" rx="0.55" fill="#000" opacity="0.35" filter="url(#b1)"/>
<rect x="399.50" y="199.70" width="9.80" height="3.60" rx="1.80" fill="#000" opacity="1.0" filter="url(#b1)"/>
<rect x="410.30" y="186.30" width="9.00" height="3.40" rx="1.70" fill="#000" opacity="0.06" filter="url(#b2)"/>
<rect x="410.00" y="190.15" width="9.60" height="2.90" rx="1.45" fill="#000" opacity="0.95" filter="url(#b1)"/>
<rect x="410.60" y="195.85" width="8.40" height="1.10" rx="0.55" fill="#000" opacity="0.3" filter="url(#b1)"/>
<rect x="409.90" y="200.00" width="9.80" height="3.00" rx="1.50" fill="#000" opacity="0.88" filter="url(#b1)"/>
<rect x="424.80" y="190.55" width="9.60" height="2.90" rx="1.45" fill="#000" opacity="1.0" filter="url(#b1)"/>
<rect x="425.40" y="195.85" width="8.40" height="1.10" rx="0.55" fill="#000" opacity="0.3" filter="url(#b1)"/>
<rect x="424.70" y="198.90" width="9.80" height="3.00" rx="1.50" fill="#000" opacity="0.95" filter="url(#b1)"/>
<rect x="435.40" y="190.55" width="9.60" height="2.90" rx="1.45" fill="#000" opacity="1.0" filter="url(#b1)"/>
<rect x="436.00" y="195.85" width="8.40" height="1.10" rx="0.55" fill="#000" opacity="0.3" filter="url(#b1)"/>
<rect x="435.30" y="198.90" width="9.80" height="3.00" rx="1.50" fill="#000" opacity="0.95" filter="url(#b1)"/>
<rect x="446.50" y="190.80" width="8.60" height="2.40" rx="1.20" fill="#000" opacity="0.6" filter="url(#b1)"/>
<rect x="446.60" y="195.85" width="8.40" height="1.10" rx="0.55" fill="#000" opacity="0.3" filter="url(#b1)"/>
<rect x="445.90" y="198.70" width="9.80" height="3.40" rx="1.70" fill="#000" opacity="1.0" filter="url(#b1)"/>
<rect x="456.60" y="190.55" width="9.60" height="2.90" rx="1.45" fill="#000" opacity="0.85" filter="url(#b1)"/>
<rect x="457.20" y="195.85" width="8.40" height="1.10" rx="0.55" fill="#000" opacity="0.3" filter="url(#b1)"/>
<rect x="456.50" y="198.90" width="9.80" height="3.00" rx="1.50" fill="#000" opacity="0.95" filter="url(#b1)"/>
<rect x="280.90" y="222.15" width="9.80" height="2.30" rx="1.15" fill="#000" opacity="1.0" filter="url(#b1)"/>
<rect x="291.50" y="222.15" width="9.80" height="2.30" rx="1.15" fill="#000" opacity="1.0" filter="url(#b1)"/>
<rect x="302.10" y="222.15" width="9.80" height="2.30" rx="1.15" fill="#000" opacity="1.0" filter="url(#b1)"/>
<rect x="312.60" y="222.15" width="9.80" height="2.30" rx="1.15" fill="#000" opacity="1.0" filter="url(#b1)"/>
<rect x="282.75" y="222.55" width="38.20" height="1.50" rx="0.75" fill="#000" opacity="1.0" filter="url(#b1)"/>
<rect x="329.70" y="222.05" width="9.80" height="2.50" rx="1.25" fill="#000" opacity="1.0" filter="url(#b1)"/>
<rect x="340.30" y="222.05" width="9.80" height="2.50" rx="1.25" fill="#000" opacity="1.0" filter="url(#b1)"/>
<rect x="350.90" y="222.05" width="9.80" height="2.50" rx="1.25" fill="#000" opacity="1.0" filter="url(#b1)"/>
<rect x="361.50" y="222.05" width="9.80" height="2.50" rx="1.25" fill="#000" opacity="1.0" filter="url(#b1)"/>
<rect x="331.15" y="222.45" width="38.50" height="1.70" rx="0.85" fill="#000" opacity="1.0" filter="url(#b1)"/>
<rect x="378.30" y="221.95" width="9.80" height="2.70" rx="1.35" fill="#000" opacity="1.0" filter="url(#b1)"/>
<rect x="388.90" y="221.95" width="9.80" height="2.70" rx="1.35" fill="#000" opacity="1.0" filter="url(#b1)"/>
<rect x="399.50" y="221.95" width="9.80" height="2.70" rx="1.35" fill="#000" opacity="1.0" filter="url(#b1)"/>
<rect x="409.90" y="221.95" width="9.80" height="2.70" rx="1.35" fill="#000" opacity="1.0" filter="url(#b1)"/>
<rect x="379.45" y="222.35" width="37.60" height="1.90" rx="0.95" fill="#000" opacity="1.0" filter="url(#b1)"/>
<rect x="424.70" y="222.00" width="9.80" height="2.60" rx="1.30" fill="#000" opacity="1.0" filter="url(#b1)"/>
<rect x="435.30" y="222.00" width="9.80" height="2.60" rx="1.30" fill="#000" opacity="1.0" filter="url(#b1)"/>
<rect x="445.90" y="222.00" width="9.80" height="2.60" rx="1.30" fill="#000" opacity="1.0" filter="url(#b1)"/>
<rect x="456.50" y="222.00" width="9.80" height="2.60" rx="1.30" fill="#000" opacity="1.0" filter="url(#b1)"/>
<rect x="427.15" y="222.40" width="37.90" height="1.80" rx="0.90" fill="#000" opacity="1.0" filter="url(#b1)"/>
<g filter="url(#soft)">
<path d="M470.2,191.2 l3.4,-2.3 v4.6 z" fill="#111"/>
<line x1="473" y1="191.2" x2="476.4" y2="191.2" stroke="#111" stroke-width="1"/>
<path d="M470.2,200.8 l3.4,-2.3 v4.6 z" fill="#111"/>
<line x1="473" y1="200.8" x2="476.4" y2="200.8" stroke="#111" stroke-width="1"/>
<text x="478" y="193.6" font-size="6.4" text-anchor="start" fill="#111" stroke="#111" stroke-width="0.14" >PARP</text>
<text x="495.4" y="193.4" font-size="4.8" text-anchor="start" fill="#444" stroke="#444" stroke-width="0.1" >(116kDa)</text>
<text x="478" y="203.2" font-size="6.4" text-anchor="start" fill="#111" stroke="#111" stroke-width="0.14" >Cleaved PARP</text>
<text x="479.2" y="209.0" font-size="4.8" text-anchor="start" fill="#444" stroke="#444" stroke-width="0.1" >(89kDa)</text>
<text x="243.4" y="240" font-size="6.15" text-anchor="end" fill="#111" stroke="#111" stroke-width="0.14" >% total</text>
<text x="243.4" y="246.7" font-size="6.0" text-anchor="end" fill="#111" stroke="#111" stroke-width="0.14" >PARP</text>
<line x1="245.2" y1="233.6" x2="245.2" y2="249.4" stroke="#222" stroke-width="0.8"/>
<text x="276.8" y="240.2" font-size="6.1" text-anchor="end" fill="#111" stroke="#111" stroke-width="0.14" >Uncleaved</text>
<text x="276.8" y="250.2" font-size="6.1" text-anchor="end" fill="#111" stroke="#111" stroke-width="0.14" >Cleaved</text>
<text x="284.4" y="240.2" font-size="6" text-anchor="middle" fill="#111" stroke="#111" stroke-width="0.14" >99.5</text>
<text x="284.4" y="250.2" font-size="6" text-anchor="middle" fill="#111" stroke="#111" stroke-width="0.14" >0.5</text>
<text x="296.6" y="240.2" font-size="6" text-anchor="middle" fill="#111" stroke="#111" stroke-width="0.14" >36</text>
<text x="296.6" y="250.2" font-size="6" text-anchor="middle" fill="#111" stroke="#111" stroke-width="0.14" >64</text>
<text x="307.2" y="240.2" font-size="6" text-anchor="middle" fill="#111" stroke="#111" stroke-width="0.14" >15</text>
<text x="307.2" y="250.2" font-size="6" text-anchor="middle" fill="#111" stroke="#111" stroke-width="0.14" >85</text>
<text x="318" y="240.2" font-size="6" text-anchor="middle" fill="#111" stroke="#111" stroke-width="0.14" >0</text>
<text x="318" y="250.2" font-size="6" text-anchor="middle" fill="#111" stroke="#111" stroke-width="0.14" >100</text>
<text x="333.6" y="240.2" font-size="6" text-anchor="middle" fill="#111" stroke="#111" stroke-width="0.14" >98.5</text>
<text x="333.6" y="250.2" font-size="6" text-anchor="middle" fill="#111" stroke="#111" stroke-width="0.14" >1.5</text>
<text x="345" y="240.2" font-size="6" text-anchor="middle" fill="#111" stroke="#111" stroke-width="0.14" >71</text>
<text x="345" y="250.2" font-size="6" text-anchor="middle" fill="#111" stroke="#111" stroke-width="0.14" >29</text>
<text x="355.4" y="240.2" font-size="6" text-anchor="middle" fill="#111" stroke="#111" stroke-width="0.14" >52</text>
<text x="355.4" y="250.2" font-size="6" text-anchor="middle" fill="#111" stroke="#111" stroke-width="0.14" >48</text>
<text x="366.2" y="240.2" font-size="6" text-anchor="middle" fill="#111" stroke="#111" stroke-width="0.14" >74</text>
<text x="366.2" y="250.2" font-size="6" text-anchor="middle" fill="#111" stroke="#111" stroke-width="0.14" >26</text>
<text x="383" y="240.2" font-size="6" text-anchor="middle" fill="#111" stroke="#111" stroke-width="0.14" >93</text>
<text x="383" y="250.2" font-size="6" text-anchor="middle" fill="#111" stroke="#111" stroke-width="0.14" >7</text>
<text x="393.8" y="240.2" font-size="6" text-anchor="middle" fill="#111" stroke="#111" stroke-width="0.14" >69</text>
<text x="393.8" y="250.2" font-size="6" text-anchor="middle" fill="#111" stroke="#111" stroke-width="0.14" >31</text>
<text x="404.2" y="240.2" font-size="6" text-anchor="middle" fill="#111" stroke="#111" stroke-width="0.14" >45</text>
<text x="404.2" y="250.2" font-size="6" text-anchor="middle" fill="#111" stroke="#111" stroke-width="0.14" >55</text>
<text x="415" y="240.2" font-size="6" text-anchor="middle" fill="#111" stroke="#111" stroke-width="0.14" >50</text>
<text x="415" y="250.2" font-size="6" text-anchor="middle" fill="#111" stroke="#111" stroke-width="0.14" >50</text>
<text x="430.4" y="240.2" font-size="6" text-anchor="middle" fill="#111" stroke="#111" stroke-width="0.14" >58</text>
<text x="430.4" y="250.2" font-size="6" text-anchor="middle" fill="#111" stroke="#111" stroke-width="0.14" >42</text>
<text x="440.6" y="240.2" font-size="6" text-anchor="middle" fill="#111" stroke="#111" stroke-width="0.14" >50</text>
<text x="440.6" y="250.2" font-size="6" text-anchor="middle" fill="#111" stroke="#111" stroke-width="0.14" >50</text>
<text x="451" y="240.2" font-size="6" text-anchor="middle" fill="#111" stroke="#111" stroke-width="0.14" >27</text>
<text x="451" y="250.2" font-size="6" text-anchor="middle" fill="#111" stroke="#111" stroke-width="0.14" >74</text>
<text x="462" y="240.2" font-size="6" text-anchor="middle" fill="#111" stroke="#111" stroke-width="0.14" >38</text>
<text x="462" y="250.2" font-size="6" text-anchor="middle" fill="#111" stroke="#111" stroke-width="0.14" >62</text>
<text x="267.6" y="304.3" font-size="7.6" text-anchor="start" fill="#111" stroke="#111" stroke-width="0.22" >JAK2:</text>
<text x="309" y="304.3" font-size="7.6" text-anchor="middle" fill="#111" stroke="#111" stroke-width="0.22" >WT</text>
<text x="356.5" y="304.3" font-size="7.6" text-anchor="middle" fill="#111" stroke="#111" stroke-width="0.22" >R<tspan font-size="5.3" dy="1.9" stroke-width="0.1">564</tspan><tspan dy="-1.9">Q</tspan></text>
<text x="405.5" y="304.3" font-size="7.6" text-anchor="middle" fill="#111" stroke="#111" stroke-width="0.22" >V<tspan font-size="5.3" dy="1.9" stroke-width="0.1">617</tspan><tspan dy="-1.9">F</tspan></text>
<text x="451.2" y="292.7" font-size="7.6" text-anchor="middle" fill="#111" stroke="#111" stroke-width="0.22" >R<tspan font-size="5.3" dy="1.9" stroke-width="0.1">564</tspan><tspan dy="-1.9">Q+</tspan></text>
<text x="451" y="304.3" font-size="7.6" text-anchor="middle" fill="#111" stroke="#111" stroke-width="0.22" >V<tspan font-size="5.3" dy="1.9" stroke-width="0.1">617</tspan><tspan dy="-1.9">F</tspan></text>
<line x1="289.4" y1="307.6" x2="328" y2="307.6" stroke="#111" stroke-width="1.2"/>
<line x1="337.4" y1="307.6" x2="375.6" y2="307.6" stroke="#111" stroke-width="1.2"/>
<line x1="385.4" y1="307.6" x2="423.6" y2="307.6" stroke="#111" stroke-width="1.2"/>
<line x1="433" y1="307.6" x2="469" y2="307.6" stroke="#111" stroke-width="1.2"/>
<text x="241.6" y="319.2" font-size="7.1" text-anchor="start" fill="#111" stroke="#111" stroke-width="0.22" >Hrs Starvation</text>
<text x="291" y="319.2" font-size="7.1" text-anchor="middle" fill="#111" stroke="#111" stroke-width="0.22" >0</text>
<text x="302.6" y="319.2" font-size="7.1" text-anchor="middle" fill="#111" stroke="#111" stroke-width="0.22" >12</text>
<text x="313.6" y="319.2" font-size="7.1" text-anchor="middle" fill="#111" stroke="#111" stroke-width="0.22" >24</text>
<text x="324.2" y="319.2" font-size="7.1" text-anchor="middle" fill="#111" stroke="#111" stroke-width="0.22" >36</text>
<text x="338.6" y="319.2" font-size="7.1" text-anchor="middle" fill="#111" stroke="#111" stroke-width="0.22" >0</text>
<text x="350" y="319.2" font-size="7.1" text-anchor="middle" fill="#111" stroke="#111" stroke-width="0.22" >12</text>
<text x="361" y="319.2" font-size="7.1" text-anchor="middle" fill="#111" stroke="#111" stroke-width="0.22" >24</text>
<text x="371.6" y="319.2" font-size="7.1" text-anchor="middle" fill="#111" stroke="#111" stroke-width="0.22" >36</text>
<text x="388" y="319.2" font-size="7.1" text-anchor="middle" fill="#111" stroke="#111" stroke-width="0.22" >0</text>
<text x="398.6" y="319.2" font-size="7.1" text-anchor="middle" fill="#111" stroke="#111" stroke-width="0.22" >12</text>
<text x="409.4" y="319.2" font-size="7.1" text-anchor="middle" fill="#111" stroke="#111" stroke-width="0.22" >24</text>
<text x="420" y="319.2" font-size="7.1" text-anchor="middle" fill="#111" stroke="#111" stroke-width="0.22" >36</text>
<text x="434.6" y="319.2" font-size="7.1" text-anchor="middle" fill="#111" stroke="#111" stroke-width="0.22" >0</text>
<text x="445" y="319.2" font-size="7.1" text-anchor="middle" fill="#111" stroke="#111" stroke-width="0.22" >12</text>
<text x="456" y="319.2" font-size="7.1" text-anchor="middle" fill="#111" stroke="#111" stroke-width="0.22" >24</text>
<text x="466.2" y="319.2" font-size="7.1" text-anchor="middle" fill="#111" stroke="#111" stroke-width="0.22" >36</text>
<text x="278.4" y="332.6" font-size="7.6" text-anchor="end" fill="#111" stroke="#111" stroke-width="0.22" >p27</text>
<text x="278.4" y="351.8" font-size="7.6" text-anchor="end" fill="#111" stroke="#111" stroke-width="0.22" >p21</text>
<text x="279.2" y="370.6" font-size="8" text-anchor="end" fill="#111" stroke="#111" stroke-width="0.22" >Actin</text>
<rect x="283.6" y="323.3" width="45.90" height="15.00" fill="#f6f6f6" stroke="#1a1a1a" stroke-width="1.15"/>
<rect x="283.6" y="342.2" width="45.90" height="14.20" fill="#f0f0f0" stroke="#1a1a1a" stroke-width="1.15"/>
<rect x="283.6" y="360.2" width="45.90" height="16.70" fill="#f9f9f9" stroke="#1a1a1a" stroke-width="1.15"/>
<rect x="332.4" y="323.3" width="45.20" height="15.00" fill="#f6f6f6" stroke="#1a1a1a" stroke-width="1.15"/>
<rect x="332.4" y="342.2" width="45.20" height="14.20" fill="#f0f0f0" stroke="#1a1a1a" stroke-width="1.15"/>
<rect x="332.4" y="360.2" width="45.20" height="16.70" fill="#f9f9f9" stroke="#1a1a1a" stroke-width="1.15"/>
<rect x="380" y="323.3" width="45.30" height="15.00" fill="#f3f3f3" stroke="#1a1a1a" stroke-width="1.15"/>
<rect x="380" y="342.2" width="45.30" height="14.20" fill="#f5f5f5" stroke="#1a1a1a" stroke-width="1.15"/>
<rect x="380" y="360.2" width="45.30" height="16.70" fill="#f9f9f9" stroke="#1a1a1a" stroke-width="1.15"/>
<rect x="428.4" y="323.3" width="45.60" height="15.00" fill="#f3f3f3" stroke="#1a1a1a" stroke-width="1.15"/>
<rect x="428.4" y="342.2" width="45.60" height="14.20" fill="#f5f5f5" stroke="#1a1a1a" stroke-width="1.15"/>
<rect x="428.4" y="360.2" width="45.60" height="16.70" fill="#f9f9f9" stroke="#1a1a1a" stroke-width="1.15"/>
</g>
<rect x="286.00" y="328.80" width="9.20" height="2.00" rx="1.00" fill="#000" opacity="0.15" filter="url(#b1)"/>
<rect x="286.30" y="325.95" width="8.60" height="1.30" rx="0.65" fill="#000" opacity="0.05" filter="url(#b2)"/>
<rect x="286.00" y="347.45" width="9.20" height="2.90" rx="1.45" fill="#000" opacity="0.42000000000000004" filter="url(#b1)"/>
<rect x="297.40" y="328.55" width="9.20" height="2.50" rx="1.25" fill="#000" opacity="0.8" filter="url(#b1)"/>
<rect x="297.70" y="325.95" width="8.60" height="1.30" rx="0.65" fill="#000" opacity="0.05" filter="url(#b2)"/>
<rect x="297.40" y="347.45" width="9.20" height="2.90" rx="1.45" fill="#000" opacity="0.35000000000000003" filter="url(#b1)"/>
<rect x="308.20" y="328.55" width="9.20" height="2.50" rx="1.25" fill="#000" opacity="0.88" filter="url(#b1)"/>
<rect x="308.50" y="325.95" width="8.60" height="1.30" rx="0.65" fill="#000" opacity="0.05" filter="url(#b2)"/>
<rect x="308.20" y="347.45" width="9.20" height="2.90" rx="1.45" fill="#000" opacity="0.42000000000000004" filter="url(#b1)"/>
<rect x="318.80" y="328.55" width="9.20" height="2.50" rx="1.25" fill="#000" opacity="0.8" filter="url(#b1)"/>
<rect x="319.10" y="325.95" width="8.60" height="1.30" rx="0.65" fill="#000" opacity="0.05" filter="url(#b2)"/>
<rect x="318.80" y="347.45" width="9.20" height="2.90" rx="1.45" fill="#000" opacity="0.32" filter="url(#b1)"/>
<rect x="285.70" y="366.65" width="9.80" height="3.10" rx="1.55" fill="#000" opacity="1.0" filter="url(#b1)"/>
<rect x="297.10" y="366.65" width="9.80" height="3.10" rx="1.55" fill="#000" opacity="1.0" filter="url(#b1)"/>
<rect x="307.90" y="366.65" width="9.80" height="3.10" rx="1.55" fill="#000" opacity="1.0" filter="url(#b1)"/>
<rect x="318.50" y="366.65" width="9.80" height="3.10" rx="1.55" fill="#000" opacity="1.0" filter="url(#b1)"/>
<rect x="287.65" y="367.10" width="38.40" height="2.20" rx="1.10" fill="#000" opacity="1.0" filter="url(#b1)"/>
<rect x="333.80" y="329.70" width="9.20" height="2.00" rx="1.00" fill="#000" opacity="0.18" filter="url(#b1)"/>
<rect x="334.10" y="326.85" width="8.60" height="1.30" rx="0.65" fill="#000" opacity="0.05" filter="url(#b2)"/>
<rect x="333.80" y="347.85" width="9.20" height="2.90" rx="1.45" fill="#000" opacity="0.4" filter="url(#b1)"/>
<rect x="345.20" y="329.45" width="9.20" height="2.50" rx="1.25" fill="#000" opacity="0.85" filter="url(#b1)"/>
<rect x="345.50" y="326.85" width="8.60" height="1.30" rx="0.65" fill="#000" opacity="0.05" filter="url(#b2)"/>
<rect x="345.20" y="347.85" width="9.20" height="2.90" rx="1.45" fill="#000" opacity="0.44" filter="url(#b1)"/>
<rect x="356.20" y="329.45" width="9.20" height="2.50" rx="1.25" fill="#000" opacity="1.0" filter="url(#b1)"/>
<rect x="356.50" y="326.85" width="8.60" height="1.30" rx="0.65" fill="#000" opacity="0.05" filter="url(#b2)"/>
<rect x="356.20" y="347.85" width="9.20" height="2.90" rx="1.45" fill="#000" opacity="0.44" filter="url(#b1)"/>
<rect x="366.80" y="329.70" width="9.20" height="2.00" rx="1.00" fill="#000" opacity="0.55" filter="url(#b1)"/>
<rect x="367.10" y="326.85" width="8.60" height="1.30" rx="0.65" fill="#000" opacity="0.05" filter="url(#b2)"/>
<rect x="366.80" y="348.35" width="9.20" height="2.90" rx="1.45" fill="#000" opacity="0.62" filter="url(#b1)"/>
<rect x="333.50" y="366.65" width="9.80" height="3.10" rx="1.55" fill="#000" opacity="1.0" filter="url(#b1)"/>
<rect x="344.90" y="366.65" width="9.80" height="3.10" rx="1.55" fill="#000" opacity="1.0" filter="url(#b1)"/>
<rect x="355.90" y="366.65" width="9.80" height="3.10" rx="1.55" fill="#000" opacity="1.0" filter="url(#b1)"/>
<rect x="366.50" y="366.65" width="9.80" height="3.10" rx="1.55" fill="#000" opacity="1.0" filter="url(#b1)"/>
<rect x="336.45" y="367.10" width="37.70" height="2.20" rx="1.10" fill="#000" opacity="1.0" filter="url(#b1)"/>
<rect x="383.20" y="329.80" width="8.80" height="2.80" rx="1.40" fill="#000" opacity="0.09000000000000001" filter="url(#b1)"/>
<rect x="383.30" y="327.10" width="8.60" height="1.40" rx="0.70" fill="#000" opacity="0.05" filter="url(#b2)"/>
<rect x="384.80" y="348.50" width="7.60" height="2.80" rx="1.40" fill="#000" opacity="0.95" filter="url(#b1)"/>
<rect x="394.00" y="329.80" width="8.80" height="2.80" rx="1.40" fill="#000" opacity="0.32" filter="url(#b1)"/>
<rect x="394.10" y="327.10" width="8.60" height="1.40" rx="0.70" fill="#000" opacity="0.12" filter="url(#b2)"/>
<rect x="393.00" y="348.10" width="10.80" height="3.60" rx="1.80" fill="#000" opacity="1.0" filter="url(#b1)"/>
<rect x="393.65" y="345.30" width="9.50" height="2.00" rx="1.00" fill="#000" opacity="0.14" filter="url(#b2)"/>
<rect x="393.65" y="352.30" width="9.50" height="1.60" rx="0.80" fill="#000" opacity="0.08" filter="url(#b2)"/>
<rect x="404.80" y="329.80" width="8.80" height="2.80" rx="1.40" fill="#000" opacity="0.32" filter="url(#b1)"/>
<rect x="404.90" y="327.10" width="8.60" height="1.40" rx="0.70" fill="#000" opacity="0.12" filter="url(#b2)"/>
<rect x="403.80" y="348.10" width="10.80" height="3.60" rx="1.80" fill="#000" opacity="1.0" filter="url(#b1)"/>
<rect x="404.45" y="345.30" width="9.50" height="2.00" rx="1.00" fill="#000" opacity="0.14" filter="url(#b2)"/>
<rect x="404.45" y="352.30" width="9.50" height="1.60" rx="0.80" fill="#000" opacity="0.08" filter="url(#b2)"/>
<rect x="415.60" y="329.80" width="8.80" height="2.80" rx="1.40" fill="#000" opacity="0.35000000000000003" filter="url(#b1)"/>
<rect x="415.70" y="327.10" width="8.60" height="1.40" rx="0.70" fill="#000" opacity="0.12" filter="url(#b2)"/>
<rect x="414.50" y="348.10" width="9.60" height="3.60" rx="1.80" fill="#000" opacity="1.0" filter="url(#b1)"/>
<rect x="415.25" y="345.30" width="9.50" height="2.00" rx="1.00" fill="#000" opacity="0.14" filter="url(#b2)"/>
<rect x="415.25" y="352.30" width="9.50" height="1.60" rx="0.80" fill="#000" opacity="0.08" filter="url(#b2)"/>
<rect x="382.70" y="366.65" width="9.80" height="3.10" rx="1.55" fill="#000" opacity="1.0" filter="url(#b1)"/>
<rect x="393.50" y="366.65" width="9.80" height="3.10" rx="1.55" fill="#000" opacity="1.0" filter="url(#b1)"/>
<rect x="404.30" y="366.65" width="9.80" height="3.10" rx="1.55" fill="#000" opacity="1.0" filter="url(#b1)"/>
<rect x="415.10" y="366.65" width="9.80" height="3.10" rx="1.55" fill="#000" opacity="1.0" filter="url(#b1)"/>
<rect x="384.05" y="367.10" width="37.80" height="2.20" rx="1.10" fill="#000" opacity="1.0" filter="url(#b1)"/>
<rect x="429.80" y="329.60" width="8.80" height="2.80" rx="1.40" fill="#000" opacity="0.16" filter="url(#b1)"/>
<rect x="429.90" y="326.90" width="8.60" height="1.40" rx="0.70" fill="#000" opacity="0.05" filter="url(#b2)"/>
<rect x="429.40" y="348.55" width="9.60" height="3.30" rx="1.65" fill="#000" opacity="0.95" filter="url(#b1)"/>
<rect x="429.70" y="345.70" width="9.00" height="1.80" rx="0.90" fill="#000" opacity="0.08" filter="url(#b2)"/>
<rect x="440.20" y="329.60" width="8.80" height="2.80" rx="1.40" fill="#000" opacity="0.32" filter="url(#b1)"/>
<rect x="440.30" y="326.90" width="8.60" height="1.40" rx="0.70" fill="#000" opacity="0.12" filter="url(#b2)"/>
<rect x="439.80" y="348.55" width="9.60" height="3.30" rx="1.65" fill="#000" opacity="1.0" filter="url(#b1)"/>
<rect x="440.10" y="345.70" width="9.00" height="1.80" rx="0.90" fill="#000" opacity="0.08" filter="url(#b2)"/>
<rect x="450.80" y="329.60" width="8.80" height="2.80" rx="1.40" fill="#000" opacity="0.42000000000000004" filter="url(#b1)"/>
<rect x="450.90" y="326.90" width="8.60" height="1.40" rx="0.70" fill="#000" opacity="0.12" filter="url(#b2)"/>
<rect x="450.40" y="348.55" width="9.60" height="3.30" rx="1.65" fill="#000" opacity="1.0" filter="url(#b1)"/>
<rect x="450.70" y="345.70" width="9.00" height="1.80" rx="0.90" fill="#000" opacity="0.08" filter="url(#b2)"/>
<rect x="461.20" y="329.60" width="8.80" height="2.80" rx="1.40" fill="#000" opacity="0.32" filter="url(#b1)"/>
<rect x="461.30" y="326.90" width="8.60" height="1.40" rx="0.70" fill="#000" opacity="0.12" filter="url(#b2)"/>
<rect x="460.80" y="348.55" width="9.60" height="3.30" rx="1.65" fill="#000" opacity="1.0" filter="url(#b1)"/>
<rect x="461.10" y="345.70" width="9.00" height="1.80" rx="0.90" fill="#000" opacity="0.08" filter="url(#b2)"/>
<rect x="429.30" y="366.65" width="9.80" height="3.10" rx="1.55" fill="#000" opacity="1.0" filter="url(#b1)"/>
<rect x="439.70" y="366.65" width="9.80" height="3.10" rx="1.55" fill="#000" opacity="1.0" filter="url(#b1)"/>
<rect x="450.30" y="366.65" width="9.80" height="3.10" rx="1.55" fill="#000" opacity="1.0" filter="url(#b1)"/>
<rect x="460.70" y="366.65" width="9.80" height="3.10" rx="1.55" fill="#000" opacity="1.0" filter="url(#b1)"/>
<rect x="432.45" y="367.10" width="38.10" height="2.20" rx="1.10" fill="#000" opacity="1.0" filter="url(#b1)"/>
</svg></body></html>
